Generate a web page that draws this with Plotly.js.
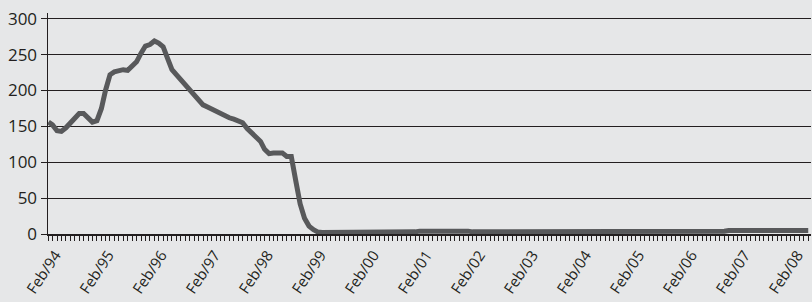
<!DOCTYPE html>
<html>
<head>
<meta charset="utf-8">
<script src="https://cdn.plot.ly/plotly-3.0.1.min.js"></script>
<style>
  html, body { margin: 0; padding: 0; background: #e6e7e8; }
  #chart { width: 812px; height: 302px; }
</style>
</head>
<body>
<div id="chart"></div>
<script>
// Series start month (Feb 1994), one value per month
const startYear = 1994;
const startMonth = 2;

const values1994_1998 = [
  156,152,144,143,148,155,163,168,168,162,156,158,
  175,200,222,226,228,229,228,233,240,252,262,264,
  269,266,261,245,229,222,215,208,202,195,186,180,
  177,174,171,168,165,162,160,158,155,147,141,136,
  129,118,112,113,113,113,108,108,75,42,22,11
];
const values1999_2003 = [
  6,3,2,2,2,2,2,3,3,3,3,3,
  3,3,3,3,3,3,3,3,3,3,3,3,
  4,4,4,5,4,4,4,4,4,5,4,4,
  3,3,3,3,3,3,3,3,3,3,4,4,
  4,4,3,3,3,4,4,3,3,3,3,3
];
const values2004_2008 = [
  3,3,3,3,3,3,3,3,3,3,3,3,
  3,3,3,3,4,4,4,3,3,3,3,3,
  3,3,3,3,3,3,3,3,4,4,5,5,
  5,5,5,5,5,6,6,6,6,6,6,6,
  6,6,6,5,5
];
const yTicks = [0, 50, 100, 150, 200, 250, 300];

const values = values1994_1998.concat(values1999_2003, values2004_2008);
const dates = values.map((v, i) => {
  const total = (startMonth - 1) + i;
  const y = startYear + Math.floor(total / 12);
  const m = (total % 12) + 1;
  return y + '-' + String(m).padStart(2, '0') + '-01';
});

const font = { family: 'Open Sans, Liberation Sans, sans-serif', color: '#231f20' };

Plotly.newPlot('chart', [{
  x: dates,
  y: values,
  type: 'scatter',
  mode: 'lines',
  line: { color: '#58595b', width: 5 },
  hoverinfo: 'skip'
}], {
  width: 812,
  height: 302,
  paper_bgcolor: '#e6e7e8',
  plot_bgcolor: '#e6e7e8',
  margin: { l: 48, r: 1, t: 13, b: 68 },
  showlegend: false,
  font: font,
  xaxis: {
    type: 'date',
    range: ['1994-01-29', '2008-06-20'],
    tick0: '1994-02-01',
    dtick: 'M12',
    tickformat: '%b/%y',
    tickangle: -56,
    ticklabelshift: 7,
    ticklabelstandoff: 0,
    tickfont: { family: font.family, size: 15, color: '#231f20' },
    ticks: 'outside',
    ticklen: 5,
    tickwidth: 1,
    tickcolor: '#231f20',
    minor: { dtick: 'M1', tick0: '1994-02-01', ticks: 'outside', ticklen: 5, tickwidth: 1, tickcolor: '#231f20', showgrid: false },
    showgrid: false,
    showline: true,
    linecolor: '#231f20',
    linewidth: 1.5,
    zeroline: false,
    fixedrange: true
  },
  yaxis: {
    range: [0, 308],
    tickvals: yTicks,
    tickfont: { family: font.family, size: 17, color: '#231f20' },
    ticks: 'outside',
    ticklen: 6,
    tickwidth: 1,
    tickcolor: '#231f20',
    showgrid: true,
    gridcolor: '#231f20',
    gridwidth: 1.2,
    showline: true,
    linecolor: '#231f20',
    linewidth: 1.5,
    zeroline: false,
    fixedrange: true
  }
}, { staticPlot: true, displayModeBar: false });
</script>
</body>
</html>
